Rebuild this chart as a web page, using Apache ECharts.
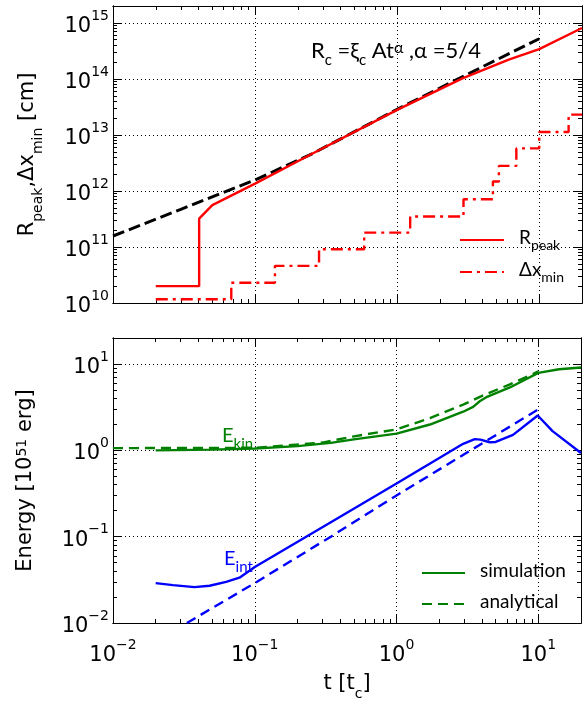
<!DOCTYPE html>
<html>
<head>
<meta charset="utf-8">
<title>shell radius and energies</title>
<script src="https://cdn.jsdelivr.net/npm/echarts@6/dist/echarts.min.js"></script>
<style>
    html, body { margin: 0; padding: 0; background: #fff; }
    #chart { width: 584px; height: 702px; }
</style>
</head>
<body>
<div id="chart"></div>
<script>
// ---- data: [t in t_c, value] ----

// top panel, radii in cm
const rcFit = [[0.01, 1.57e11], [0.03, 4.7e11], [0.1, 1.57e12], [0.256, 4.7e12], [1, 2.86e13], [3, 1.15e14], [10, 5.2e14]];
const rPeak = [[0.02, 2e10], [0.0404, 2e10], [0.0404, 3.2e11], [0.05, 5.6e11], [0.1, 1.35e12], [0.256, 4.7e12],
    [1, 2.8e13], [2.88, 1.02e14], [6.1, 2.2e14], [10, 3.4e14], [20, 8.1e14]];
// step function, each value holds until the next t
const dxMin = [[0.02, 1.17e10], [0.068, 2.3e10], [0.138, 4.6e10], [0.282, 9.1e10], [0.586, 1.8e11], [1.235, 3.5e11],
    [2.93, 7.1e11], [4.72, 1.47e12], [5.2, 2.8e12], [6.9, 5.75e12], [10, 1.13e13], [16.1, 2.3e13], [20, 2.3e13]];

// bottom panel, energies in 1e51 erg
const eKinSim = [[0.02, 1.0], [0.05, 1.02], [0.1, 1.05], [0.2, 1.12], [0.344, 1.22], [0.5, 1.34], [1, 1.56],
    [1.72, 1.99], [2.95, 2.8], [3.47, 3.19], [3.86, 3.7], [4.3, 4.13], [6.3, 5.35], [10, 7.9], [14, 8.7], [20, 9.1]];
const eKinAna = [[0.01, 1.06], [0.1, 1.07], [0.3, 1.23], [0.5, 1.45], [1, 1.75], [1.72, 2.36], [2.95, 3.39],
    [4.3, 4.5], [6.3, 5.8], [10, 8.2]];
const eIntSim = [[0.02, 0.029], [0.0265, 0.0275], [0.0376, 0.026], [0.048, 0.027], [0.0628, 0.03], [0.078, 0.0335],
    [0.1, 0.0445], [0.344, 0.147], [1, 0.413], [2.95, 1.19], [3.56, 1.35], [3.9, 1.33], [4.54, 1.24], [5.0, 1.25],
    [6.63, 1.51], [9.9, 2.53], [12.6, 1.67], [20, 0.93]];
const eIntAna = [[0.0332, 0.01], [0.1, 0.029], [0.344, 0.1], [1, 0.3], [3, 0.9], [10, 2.98]];

// ---- axes ----
const T_RANGE = [0.01, 20];
const R_RANGE = [1e10, 2e15];
const E_RANGE = [0.01, 20];

const tDecades = [0.01, 0.1, 1, 10];
const rDecades = [1e10, 1e11, 1e12, 1e13, 1e14, 1e15];
const eDecades = [0.01, 0.1, 1, 10];
const minorSteps = [2, 3, 4, 5, 6, 7, 8, 9];

const RED = '#ff0000', GREEN = '#008000', BLUE = '#0000ff';
const AXIS_FONT = 'DejaVu Sans';
const TEXT_FONT = 'Lato';

function minorTicks(decades, max) {
    let out = [];
    for (const d of decades) {
        for (const m of minorSteps) {
            if (d * m <= max * 1.0001) out.push(d * m);
        }
    }
    return out;
}

const TICK_RICH = {
    b: { fontFamily: AXIS_FONT, fontSize: 21, lineHeight: 28, color: '#000', verticalAlign: 'bottom' },
    s: { fontFamily: AXIS_FONT, fontSize: 14, lineHeight: 8, color: '#000', verticalAlign: 'top' }
};

const NAME_RICH = {
    b: { fontFamily: AXIS_FONT, fontSize: 21, lineHeight: 28, color: '#000', verticalAlign: 'top' },
    u: { fontFamily: AXIS_FONT, fontSize: 14, lineHeight: 12, color: '#000', verticalAlign: 'bottom' },
    s: { fontFamily: AXIS_FONT, fontSize: 14, lineHeight: 8, color: '#000', verticalAlign: 'top' }
};

const FRAME_LINE = { show: true, onZero: false, lineStyle: { color: '#000', width: 1 } };

function powLabel(v) {
    let e = Math.log10(v);
    let n = Math.round(e);
    if (Math.abs(e - n) > 1e-6) return '';
    return '{b|10}{s|' + String(n).replace('-', '\u2212') + '}';
}

// log axis carrying data, decade ticks, labels and the dotted grid
function logAxis(o) {
    let ax = {
        type: 'log',
        logBase: 10,
        gridIndex: o.grid,
        min: o.range[0],
        max: o.range[1],
        position: o.pos,
        axisLine: FRAME_LINE,
        axisTick: { show: true, inside: true, length: 8, lineStyle: { color: '#000', width: 1 } },
        axisLabel: { show: false },
        splitLine: { show: false },
        minorTick: { show: false }
    };
    if (o.labels) {
        ax.axisLabel = { show: true, formatter: powLabel, margin: o.margin, color: '#000', rich: TICK_RICH };
    }
    if (o.gridLines) {
        ax.splitLine = { show: true, lineStyle: { color: '#000', width: 1, type: [1, 3] } };
    }
    if (o.name) {
        ax.name = o.name;
        ax.nameLocation = 'middle';
        ax.nameGap = o.nameGap;
        if (o.nameRotate) ax.nameRotate = o.nameRotate;
        ax.nameTextStyle = { rich: NAME_RICH };
    }
    return ax;
}

// minor ticks only (2..9 x 10^n); drawn on a plain axis in exponent units
function minorAxis(grid, range, pos, ticks) {
    return {
        type: 'value',
        gridIndex: grid,
        min: Math.log10(range[0]),
        max: Math.log10(range[1]),
        position: pos,
        axisLine: FRAME_LINE,
        axisTick: { show: true, inside: true, length: 4, customValues: ticks.map(Math.log10),
            lineStyle: { color: '#000', width: 1 } },
        axisLabel: { show: false },
        splitLine: { show: false }
    };
}

const tMinor = minorTicks(tDecades, T_RANGE[1]);
const rMinor = minorTicks(rDecades, R_RANGE[1]);
const eMinor = minorTicks(eDecades, E_RANGE[1]);

let xAxes = [
    // top panel
    logAxis({ grid: 0, range: T_RANGE, pos: 'bottom', gridLines: true }),
    logAxis({ grid: 0, range: T_RANGE, pos: 'top' }),
    minorAxis(0, T_RANGE, 'bottom', tMinor),
    minorAxis(0, T_RANGE, 'top', tMinor),
    // bottom panel
    logAxis({ grid: 1, range: T_RANGE, pos: 'bottom', gridLines: true, labels: true, margin: 15,
        name: '{b|t [t}{u|c}{b|]}', nameGap: 50 }),
    logAxis({ grid: 1, range: T_RANGE, pos: 'top' }),
    minorAxis(1, T_RANGE, 'bottom', tMinor),
    minorAxis(1, T_RANGE, 'top', tMinor)
];

let yAxes = [
    logAxis({ grid: 0, range: R_RANGE, pos: 'left', gridLines: true, labels: true, margin: 4,
        name: '{b|R}{u|peak}{b|,\u0394x}{u|min}{b| [cm]}', nameGap: 68, nameRotate: 90 }),
    logAxis({ grid: 0, range: R_RANGE, pos: 'right' }),
    minorAxis(0, R_RANGE, 'left', rMinor),
    minorAxis(0, R_RANGE, 'right', rMinor),
    logAxis({ grid: 1, range: E_RANGE, pos: 'left', gridLines: true, labels: true, margin: 4,
        name: '{b|Energy [10}{s|51}{b| erg]}', nameGap: 70, nameRotate: 90 }),
    logAxis({ grid: 1, range: E_RANGE, pos: 'right' }),
    minorAxis(1, E_RANGE, 'left', eMinor),
    minorAxis(1, E_RANGE, 'right', eMinor)
];

function lineSeries(name, data, panel, color, width, dash, step) {
    let s = {
        name: name,
        type: 'line',
        xAxisIndex: panel * 4,
        yAxisIndex: panel * 4,
        data: data,
        symbol: 'none',
        silent: true,
        itemStyle: { color: color },
        lineStyle: { color: color, width: width, type: dash || 'solid' },
        z: 3
    };
    if (step) s.step = step;
    return s;
}

const LEGEND_RICH = {
    a: { fontFamily: TEXT_FONT, fontSize: 19, lineHeight: 24, color: '#000', verticalAlign: 'top', padding: [0, 0, 0, 10] },
    u: { fontFamily: TEXT_FONT, fontSize: 14, lineHeight: 10, color: '#000', verticalAlign: 'bottom' }
};
const LEGEND_TEXT = {
    rPeak: '{a|R}{u|peak}',
    dxMin: '{a|\u0394x}{u|min}',
    simulation: '{a|simulation}',
    analytical: '{a|analytical}'
};

const option = {
    animation: false,
    backgroundColor: '#fff',
    grid: [
        { left: 113, top: 6, width: 469, height: 297 },
        { left: 113, top: 338, width: 469, height: 296 }
    ],
    xAxis: xAxes,
    yAxis: yAxes,
    legend: [
        {
            data: ['rPeak', 'dxMin'], orient: 'vertical', left: 459, top: 228, padding: 0,
            itemWidth: 44, itemHeight: 14, itemGap: 8, selectedMode: false,
            itemStyle: { opacity: 0 },
            formatter: (name) => LEGEND_TEXT[name], textStyle: { rich: LEGEND_RICH }
        },
        {
            data: ['simulation', 'analytical'], orient: 'vertical', left: 421, top: 561, padding: 0,
            itemWidth: 43, itemHeight: 14, itemGap: 12, selectedMode: false,
            itemStyle: { opacity: 0 },
            formatter: (name) => LEGEND_TEXT[name], textStyle: { rich: LEGEND_RICH }
        }
    ],
    graphic: [
        {
            type: 'text', left: 311, top: 40, silent: true,
            style: {
                text: '{a|R}{c|c}{a| =\u03be}{c|c}{a| At}{e|\u03b1}{a| ,\u03b1 =5/4}',
                rich: {
                    a: { fontFamily: TEXT_FONT, fontSize: 22, lineHeight: 28, fill: '#000', verticalAlign: 'top' },
                    c: { fontFamily: TEXT_FONT, fontSize: 15, lineHeight: 12, fill: '#000', verticalAlign: 'bottom' },
                    e: { fontFamily: TEXT_FONT, fontSize: 16, lineHeight: 6, fill: '#000', verticalAlign: 'top' }
                }
            }
        },
        {
            type: 'text', left: 222, top: 426, silent: true,
            style: {
                text: '{a|E}{c|kin}',
                rich: {
                    a: { fontFamily: TEXT_FONT, fontSize: 20, lineHeight: 26, fill: GREEN, verticalAlign: 'top' },
                    c: { fontFamily: TEXT_FONT, fontSize: 15, lineHeight: 11, fill: GREEN, verticalAlign: 'bottom' }
                }
            }
        },
        {
            type: 'text', left: 224, top: 549, silent: true,
            style: {
                text: '{a|E}{c|int}',
                rich: {
                    a: { fontFamily: TEXT_FONT, fontSize: 20, lineHeight: 26, fill: BLUE, verticalAlign: 'top' },
                    c: { fontFamily: TEXT_FONT, fontSize: 15, lineHeight: 11, fill: BLUE, verticalAlign: 'bottom' }
                }
            }
        }
    ],
    series: [
        lineSeries('rcFit', rcFit, 0, '#000', 3, [12, 5]),
        lineSeries('rPeak', rPeak, 0, RED, 2.4),
        lineSeries('dxMin', dxMin, 0, RED, 2.4, [12, 5, 3, 5], 'end'),
        lineSeries('simulation', eKinSim, 1, GREEN, 2.4),
        lineSeries('analytical', eKinAna, 1, GREEN, 2.4, [10, 6]),
        lineSeries('eIntSim', eIntSim, 1, BLUE, 2.4),
        lineSeries('eIntAna', eIntAna, 1, BLUE, 2.4, [10, 6])
    ]
};

let chart = echarts.init(document.getElementById('chart'));
chart.setOption(option);
</script>
</body>
</html>
